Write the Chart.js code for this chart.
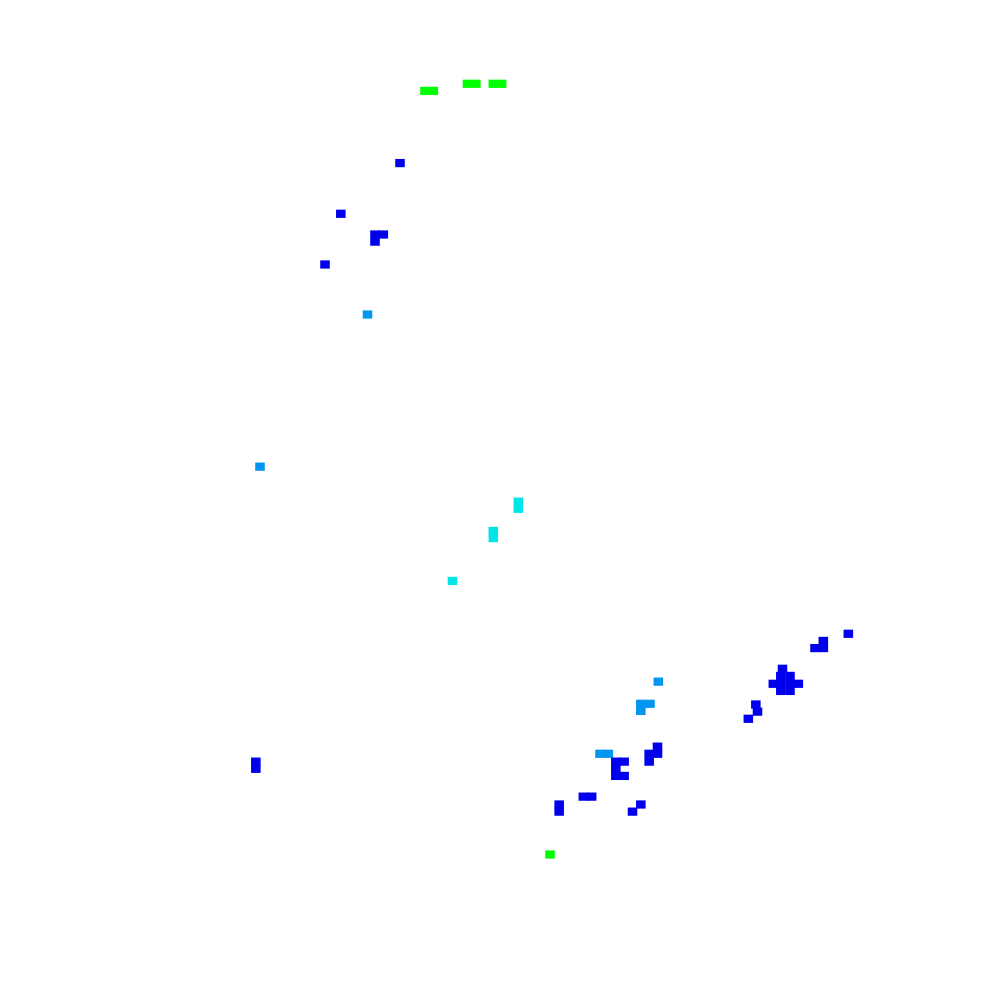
<!DOCTYPE html>
<html>
<head>
<meta charset="utf-8">
<script src="https://cdn.jsdelivr.net/npm/chart.js@4/dist/chart.umd.min.js"></script>
<style>
  body { margin: 0; background: #fff; }
  canvas { display: block; }
</style>
</head>
<body>
<canvas id="myChart" width="1000" height="1000"></canvas>
<script>
// grid is 120 columns x 140 rows, each cell given as [column, row] of its top-left corner
const level1Cells = [
    [47.5, 22.3], [40.4, 29.4], [44.5, 32.3], [45.5, 32.3], [44.5, 33.3], [38.5, 36.5],
    [30.2, 106.1], [30.2, 107.1],
    [101.3, 88.2], [98.3, 89.2], [97.3, 90.2], [98.3, 90.2],
    [93.4, 93.1], [93.2, 94.1], [94.3, 94.1],
    [92.3, 95.2], [93.2, 95.2], [94.3, 95.2], [95.3, 95.2],
    [93.2, 96.2], [94.3, 96.2],
    [90.2, 98.1], [90.4, 99.1], [89.3, 100.1],
    [78.4, 104.0], [77.4, 105.0], [78.4, 105.0], [77.4, 106.1],
    [73.4, 106.1], [74.4, 106.1], [73.4, 107.1], [73.4, 108.1], [74.4, 108.1],
    [69.5, 111.0], [70.5, 111.0],
    [66.6, 112.1], [66.6, 113.1],
    [76.4, 112.1], [75.4, 113.1]
]
const level2Cells = [
    [43.6, 43.5], [30.7, 64.8], [78.5, 94.9],
    [76.4, 98.0], [77.5, 98.0], [76.4, 99.0],
    [71.5, 105.0], [72.5, 105.0]
]
const level3Cells = [
    [61.7, 69.7], [61.7, 70.7], [58.7, 73.8], [58.7, 74.8], [53.8, 80.8]
]
const level4Cells = [
    [50.5, 12.2], [51.5, 12.2], [55.6, 11.2], [56.6, 11.2], [58.7, 11.2], [59.7, 11.2],
    [65.5, 119.1]
]
const levelColors = ['#0000ec', '#0096f0', '#00e6e6', '#00ff00']

const cols = 120
const rows = 140

function toBars(cells) {
    // each cell becomes a floating bar one row tall (a hair more so neighbours don't show a seam)
    return cells.map((c) => ({ x: c[0] + 0.5, y: [c[1], c[1] + 1.06] }))
}

let allLevels = [level1Cells, level2Cells, level3Cells, level4Cells]
let datasets = allLevels.map((cells, i) => ({
    label: 'level ' + (i + 1),
    data: toBars(cells),
    backgroundColor: levelColors[i],
    borderWidth: 0,
    borderSkipped: false,
    grouped: false,
    barThickness: 8.9
}))

const ctx = document.getElementById('myChart').getContext('2d')
const myChart = new Chart(ctx, {
    type: 'bar',
    data: { datasets: datasets },
    options: {
        responsive: false,
        animation: false,
        devicePixelRatio: 1,
        layout: { padding: 0 },
        plugins: {
            legend: { display: false },
            tooltip: { enabled: false }
        },
        scales: {
            x: { type: 'linear', min: 0, max: cols, offset: false, display: false },
            y: { type: 'linear', min: 0, max: rows, reverse: true, display: false }
        }
    }
})
</script>
</body>
</html>
